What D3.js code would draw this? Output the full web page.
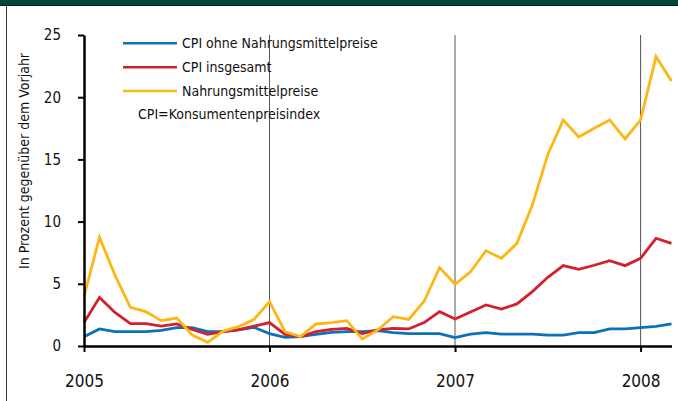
<!DOCTYPE html>
<html>
<head>
<meta charset="utf-8">
<script src="https://cdn.jsdelivr.net/npm/d3@7"></script>
<style>
  body { margin: 0; background: #fff; }
  svg text { font-family: "Liberation Sans Narrow", "DejaVu Sans Condensed", sans-serif; fill: #111; }
</style>
</head>
<body>
<div id="svg-area"></div>
<script>
// monthly values, Jan 2005 .. Mar 2008
var ohneNahrung = [0.75, 1.37, 1.15, 1.15, 1.15, 1.26, 1.47, 1.47, 1.15, 1.15, 1.3, 1.5,
  1.0, 0.7, 0.75, 0.94, 1.1, 1.15, 1.15, 1.23, 1.07, 0.99, 0.99, 0.99,
  0.67, 0.96, 1.07, 0.96, 0.96, 0.96, 0.88, 0.88, 1.07, 1.07, 1.37, 1.37,
  1.47, 1.58, 1.77];
var insgesamt = [1.88, 3.9, 2.7, 1.8, 1.8, 1.6, 1.77, 1.34, 0.94, 1.15, 1.31, 1.6,
  1.88, 0.94, 0.75, 1.15, 1.34, 1.42, 1.0, 1.29, 1.42, 1.37, 1.88, 2.76,
  2.17, 2.73, 3.3, 2.97, 3.38, 4.37, 5.52, 6.46, 6.16, 6.49, 6.86, 6.46,
  7.05, 8.66, 8.25];
var nahrung = [3.96, 8.74, 5.7, 3.1, 2.76, 2.04, 2.25, 0.88, 0.3, 1.2, 1.55, 2.14,
  3.56, 1.15, 0.75, 1.77, 1.88, 2.04, 0.56, 1.29, 2.36, 2.14, 3.6, 6.3,
  4.96, 5.97, 7.66, 7.05, 8.25, 11.33, 15.4, 18.17, 16.8, 17.5, 18.17, 16.64,
  18.17, 23.26, 21.3];
var yearLabels = ["2005", "2006", "2007", "2008"];
var yTicks = [0, 5, 10, 15, 20, 25];

var series = [
  { name: "CPI ohne Nahrungsmittelpreise", values: ohneNahrung, color: "#0a72b8" },
  { name: "CPI insgesamt", values: insgesamt, color: "#d2202c" },
  { name: "Nahrungsmittelpreise", values: nahrung, color: "#fdb714" }
];

var svgWidth = 678;
var svgHeight = 401;

var svg = d3.select("#svg-area")
  .append("svg")
  .attr("width", svgWidth)
  .attr("height", svgHeight);

// frame: dark band on top, thin line on the left
svg.append("rect")
  .attr("x", 0).attr("y", 0)
  .attr("width", svgWidth).attr("height", 6)
  .attr("fill", "#00463d");
svg.append("line")
  .attr("x1", 0).attr("x2", svgWidth)
  .attr("y1", 5.5).attr("y2", 5.5)
  .attr("stroke", "#0b1f1b").attr("stroke-width", 1);
svg.append("line")
  .attr("x1", 6.5).attr("x2", 6.5)
  .attr("y1", 6).attr("y2", svgHeight)
  .attr("stroke", "#333").attr("stroke-width", 1);

var xScale = d3.scaleLinear()
  .domain([0, nahrung.length - 1])
  .range([84, 671.5]);

var yScale = d3.scaleLinear()
  .domain([0, 25])
  .range([346, 35]);

// vertical year lines
var gridStyle = [
  { m: 12, color: "#555", w: 1 },
  { m: 24, color: "#aaa", w: 2 },
  { m: 36, color: "#555", w: 1 }
];
svg.selectAll(".grid")
  .data(gridStyle)
  .enter()
  .append("line")
  .attr("class", "grid")
  .attr("x1", d => xScale(d.m)).attr("x2", d => xScale(d.m))
  .attr("y1", yScale(25)).attr("y2", yScale(0))
  .attr("stroke", d => d.color)
  .attr("stroke-width", d => d.w);

// lines
var line = d3.line()
  .x((d, i) => xScale(i))
  .y(d => yScale(d));

svg.selectAll(".series")
  .data(series)
  .enter()
  .append("path")
  .attr("class", "series")
  .attr("d", d => line(d.values))
  .attr("fill", "none")
  .attr("stroke", d => d.color)
  .attr("stroke-width", 2.8)
  .attr("stroke-linejoin", "miter");

// axes
var leftAxis = d3.axisLeft(yScale)
  .tickValues(yTicks)
  .tickSizeInner(6)
  .tickSizeOuter(0)
  .tickPadding(17);

var yAxisG = svg.append("g")
  .attr("transform", `translate(${xScale(0)}, 0)`)
  .call(leftAxis);

var bottomAxis = d3.axisBottom(xScale)
  .tickValues([0, 12, 24, 36])
  .tickFormat((d, i) => yearLabels[i])
  .tickSizeInner(6)
  .tickSizeOuter(0)
  .tickPadding(23);

var xAxisG = svg.append("g")
  .attr("transform", `translate(0, ${yScale(0)})`)
  .call(bottomAxis);

[yAxisG, xAxisG].forEach(function(g) {
  g.select(".domain").attr("stroke", "#000").attr("stroke-width", 2.5);
  g.selectAll(".tick line").attr("stroke", "#000").attr("stroke-width", 2);
});
yAxisG.selectAll(".tick text").style("font-size", "15px").attr("fill", "#111");
xAxisG.selectAll(".tick text").style("font-size", "17px").attr("fill", "#111");

// y title
svg.append("text")
  .attr("transform", "translate(29, 161) rotate(-90)")
  .attr("text-anchor", "middle")
  .style("font-size", "14px")
  .text("In Prozent gegenüber dem Vorjahr");

// legend
var legend = svg.selectAll(".legend")
  .data(series)
  .enter()
  .append("g")
  .attr("class", "legend")
  .attr("transform", (d, i) => `translate(123, ${43.3 + i * 23.9})`);

legend.append("line")
  .attr("x1", 0).attr("x2", 54)
  .attr("stroke", d => d.color)
  .attr("stroke-width", 2.5);

legend.append("text")
  .attr("x", 59)
  .attr("dy", "0.35em")
  .style("font-size", "14px")
  .text(d => d.name);

svg.append("text")
  .attr("x", 138)
  .attr("y", 114)
  .attr("dy", "0.35em")
  .style("font-size", "14px")
  .text("CPI=Konsumentenpreisindex");
</script>
</body>
</html>
